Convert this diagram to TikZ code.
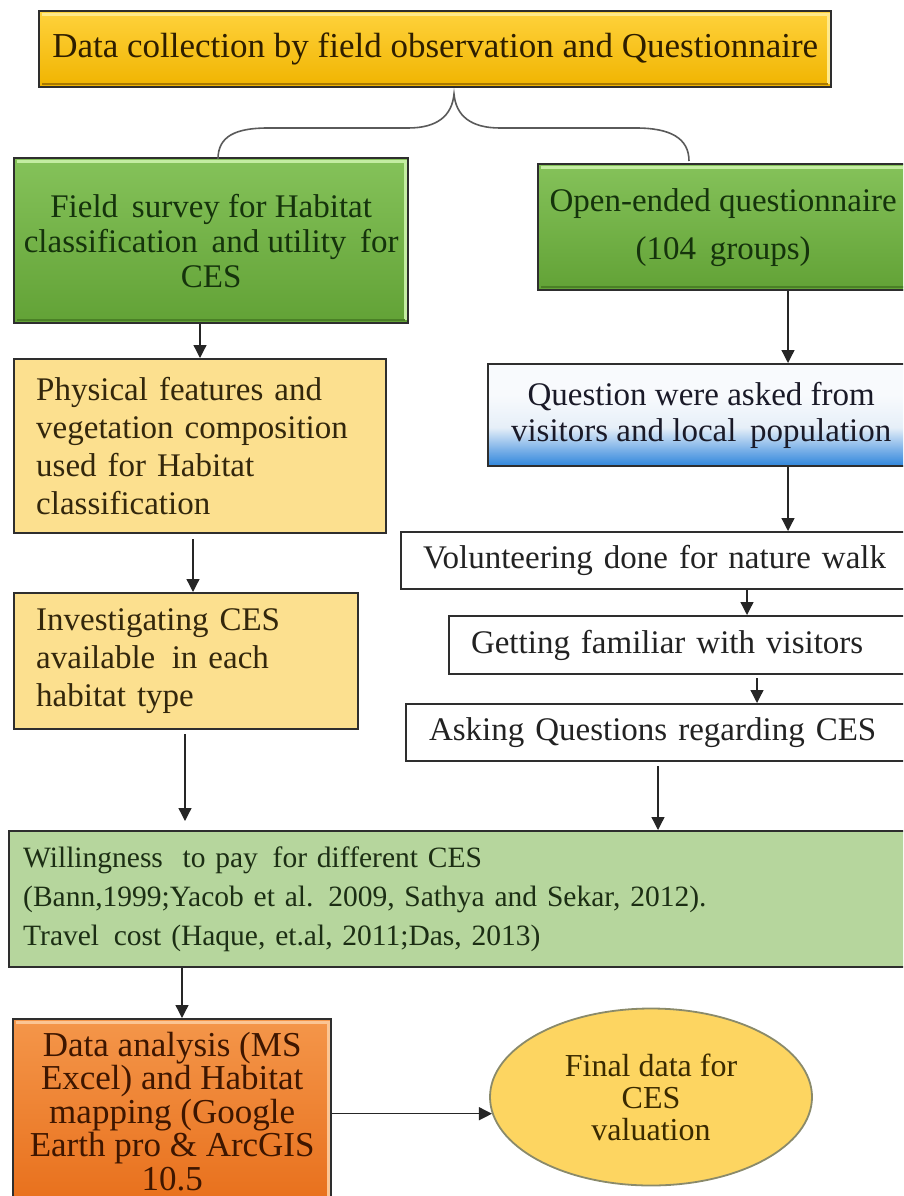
\documentclass[tikz,border=0pt]{standalone}
\usepackage{fontspec}
\setmainfont{Liberation Serif}
\usetikzlibrary{arrows.meta,shapes.geometric,calc}

\definecolor{edge}{HTML}{2E2E2E}
\definecolor{goldTop}{HTML}{FFD23C}
\definecolor{goldBot}{HTML}{F0B400}
\definecolor{goldHi}{HTML}{FFE98A}
\definecolor{goldLo}{HTML}{A87800}
\definecolor{goldTxt}{HTML}{2E1E00}
\definecolor{grnTop}{HTML}{85C25A}
\definecolor{grnBot}{HTML}{62A236}
\definecolor{grnHi}{HTML}{C4EDA2}
\definecolor{grnLo}{HTML}{4A8026}
\definecolor{grnTxt}{HTML}{15330C}
\definecolor{sand}{HTML}{FCE08F}
\definecolor{sandTxt}{HTML}{33270C}
\definecolor{qBlue}{HTML}{2F86DC}
\definecolor{qBlueMid}{HTML}{6FAAE6}
\definecolor{qPale}{HTML}{E6EFF8}
\definecolor{qWhite}{HTML}{F8FAFD}
\definecolor{qTxt}{HTML}{1A1A28}
\definecolor{sage}{HTML}{B6D69D}
\definecolor{sageTxt}{HTML}{1C2E14}
\definecolor{orTop}{HTML}{F4964A}
\definecolor{orBot}{HTML}{E8701C}
\definecolor{orHi}{HTML}{FBC594}
\definecolor{orLo}{HTML}{B85010}
\definecolor{orTxt}{HTML}{3E1600}
\definecolor{ellFill}{HTML}{FDD561}
\definecolor{ellLine}{HTML}{8A8A6A}
\definecolor{ellTxt}{HTML}{3A2A00}
\definecolor{braceCol}{HTML}{5A5A5A}
\definecolor{plainTxt}{HTML}{222222}

% white at the top fading to blue along the bottom edge
\pgfdeclareverticalshading{askshade}{100bp}{color(0bp)=(qBlue); color(25bp)=(qBlue);
  color(32bp)=(qBlueMid); color(44bp)=(qPale); color(60bp)=(qWhite); color(100bp)=(qWhite)}

\newcommand\setfs[2]{\fontsize{#1}{#2}\selectfont}

\begin{document}
\begin{tikzpicture}[x=1pt,y=-1pt,
  box/.style={draw=edge, line width=2.4pt, inner sep=0pt, anchor=north west},
  bevel/.style 2 args={path picture={
    \draw[#1, line width=3pt]
      ([xshift=3pt,yshift=-3pt]path picture bounding box.north west)
      -- ([xshift=-3pt,yshift=-3pt]path picture bounding box.north east)
      -- ([xshift=-3pt,yshift=3pt]path picture bounding box.south east);
    \draw[#2, line width=2pt]
      ([xshift=3pt,yshift=3pt]path picture bounding box.south west)
      -- ([xshift=-3pt,yshift=3pt]path picture bounding box.south east);}},
  goldbox/.style={box, top color=goldTop, bottom color=goldBot, bevel={goldHi}{goldLo},
    text=goldTxt, align=center},
  greenbox/.style={box, top color=grnTop, bottom color=grnBot, bevel={grnHi}{grnLo},
    text=grnTxt, align=center},
  sandbox/.style={box, fill=sand, text=sandTxt, align=left},
  bluebox/.style={box, shading=askshade, text=qTxt, align=center},
  plainbox/.style={box, fill=white, line width=2pt, text=plainTxt, align=left},
  sagebox/.style={box, fill=sage, text=sageTxt, align=left},
  orangebox/.style={box, top color=orTop, bottom color=orBot, bevel={orHi}{orLo},
    text=orTxt, align=center},
  arr/.style={-{Triangle[length=13pt,width=13pt]}, line width=1.3pt, draw=black!85},
]
\useasboundingbox (0,0) rectangle (903,1196);
\clip (0,0) rectangle (903,1196);

% ---------- header ----------
\node[goldbox, minimum width=792, minimum height=76, font=\setfs{35}{40}] (top) at (38,10)
  {Data collection by field observation and Questionnaire};

% ---------- two survey branches ----------
\node[greenbox, minimum width=394, minimum height=165, font=\setfs{33}{35}] (fs) at (13,157)
  {Field\, survey for Habitat\\classification\, and utility\, for\\CES};
\node[greenbox, minimum width=370, minimum height=126, font=\setfs{33}{48}] (oe) at (537,163)
  {Open-ended questionnaire\\(104\, groups)};

% brace joining the header to both branches
\coordinate (bL) at (218,159);
\coordinate (bR) at (689,161);
\coordinate (bTip) at (454,94);
\draw[braceCol, line width=1.6pt]
  (bL) .. controls (218,136) and (236,128) .. (268,128) -- (408,128)
  .. controls (437,128) and (452,116) .. (bTip)
  .. controls (456,116) and (471,128) .. (500,128) -- (636,128)
  .. controls (670,128) and (689,138) .. (bR);

% ---------- left column ----------
\node[sandbox, minimum width=372, minimum height=174, text width=328, inner xsep=22pt,
  font=\setfs{33}{38}] (phys) at (13,358)
  {Physical features and\\vegetation composition\\used for Habitat\\classification};
\node[sandbox, minimum width=344, minimum height=136, text width=300, inner xsep=22pt,
  font=\setfs{33}{38}] (inv) at (13,592)
  {Investigating CES\\available\, in each\\habitat type};

% ---------- right column ----------
\node[bluebox, minimum width=426, minimum height=102, font=\setfs{33}{36}] (ask) at (487,363)
  {Question were asked from\\visitors and local\, population};
\node[plainbox, minimum width=520, minimum height=57, text width=476, inner xsep=22pt,
  font=\setfs{33}{38}] (vol) at (400,531)
  {Volunteering done for nature walk};
\node[plainbox, minimum width=472, minimum height=58, text width=428, inner xsep=22pt,
  font=\setfs{33}{38}] (fam) at (448,615)
  {Getting familiar with visitors};
\node[plainbox, minimum width=515, minimum height=57, text width=469, inner xsep=23pt,
  font=\setfs{33}{38}] (qces) at (405,703)
  {Asking Questions regarding CES};

% ---------- valuation ----------
\node[sagebox, minimum width=912, minimum height=136, text width=884, inner xsep=14pt,
  font=\setfs{29.5}{39}] (wtp) at (8,830)
  {Willingness\ \ to pay\, for different CES\\(Bann,1999;Yacob et al. 2009, Sathya and Sekar, 2012).\\Travel\, cost (Haque, et.al, 2011;Das, 2013)};

\node[orangebox, minimum width=318, minimum height=184, font=\setfs{35}{33.5}] (da) at (12,1018)
  {Data analysis (MS\\Excel) and Habitat\\mapping (Google\\Earth pro \& ArcGIS\\10.5};

\node[ellipse, draw=ellLine, line width=1.8pt, fill=ellFill, minimum width=322,
  minimum height=177, inner sep=0pt, align=center, text=ellTxt, font=\setfs{32}{32}]
  (fin) at (651,1097) {Final data for\\CES\\valuation};

% ---------- connectors ----------
\coordinate (c1) at (200,0);
\coordinate (c2) at (193,0);
\coordinate (c3) at (788,0);
\coordinate (c4) at (747,0);
\coordinate (c5) at (757,0);
\coordinate (c6) at (185,0);
\coordinate (c7) at (658,0);
\coordinate (c8) at (182,0);

\draw[arr] (c1 |- fs.south) -- (c1 |- phys.north);
\draw[arr, shorten <=5pt] (c2 |- phys.south) -- (c2 |- inv.north);
\draw[arr] (c3 |- oe.south) -- (c3 |- ask.north);
\draw[arr] (c3 |- ask.south) -- (c3 |- vol.north);
\draw[arr] (c4 |- vol.south) -- (c4 |- fam.north);
\draw[arr, shorten <=3pt] (c5 |- fam.south) -- (c5 |- qces.north);
\draw[arr, shorten <=4pt, shorten >=9pt] (c6 |- inv.south) -- (c6 |- wtp.north);
\draw[arr, shorten <=4pt] (c7 |- qces.south) -- (c7 |- wtp.north);
\draw[arr] (c8 |- wtp.south) -- (c8 |- da.north);
\draw[arr] (da.east |- fin.186) -- (fin.186);
\end{tikzpicture}
\end{document}
